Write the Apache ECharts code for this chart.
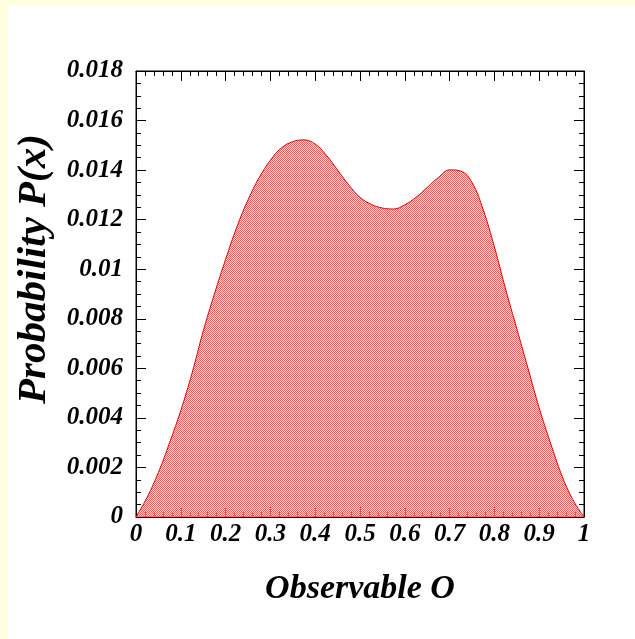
<!DOCTYPE html>
<html>
<head>
<meta charset="utf-8">
<script src="https://cdn.jsdelivr.net/npm/echarts@6/dist/echarts.min.js"></script>
<style>
  html, body { margin: 0; padding: 0; background: #ffffff; }
  #chart { width: 635px; height: 639px; }
</style>
</head>
<body>
<div id="chart"></div>
<script>
// Observable values (x) and the probability density read at each one
const obsValues = [0, 0.025, 0.05, 0.075, 0.1, 0.125, 0.15, 0.175, 0.2, 0.225, 0.25, 0.275, 0.3, 0.325, 0.35, 0.375, 0.4, 0.425, 0.45, 0.475, 0.5, 0.525, 0.55, 0.575, 0.6, 0.625, 0.65, 0.675, 0.7, 0.725, 0.75, 0.775, 0.8, 0.825, 0.85, 0.875, 0.9, 0.925, 0.95, 0.975, 1.0];
const probValues = [0, 0.0008, 0.0018, 0.0030, 0.0043, 0.0058, 0.0075, 0.0090, 0.0104, 0.0117, 0.0128, 0.0137, 0.0144, 0.0149, 0.01515, 0.01522, 0.01505, 0.0146, 0.0140, 0.0134, 0.0129, 0.01262, 0.01247, 0.01243, 0.0126, 0.0129, 0.0133, 0.0137, 0.01401, 0.01396, 0.0135, 0.0124, 0.0109, 0.0092, 0.0076, 0.0060, 0.0044, 0.0030, 0.0017, 0.0007, 0];

// Tick labels
const xTickLabels = ['0', '0.1', '0.2', '0.3', '0.4', '0.5', '0.6', '0.7', '0.8', '0.9', '1'];
const yTickLabels = ['0', '0.002', '0.004', '0.006', '0.008', '0.01', '0.012', '0.014', '0.016', '0.018'];

const xTitle = 'Observable O';
const yTitle = 'Probability P(x)';

// Checkered fill pattern: red cells alternating with pale cells
function makePattern() {
  const c = document.createElement('canvas');
  c.width = 2; c.height = 2;
  const g = c.getContext('2d');
  g.fillStyle = 'rgb(232,96,96)';
  g.fillRect(0, 0, 1, 1);
  g.fillRect(1, 1, 1, 1);
  g.fillStyle = 'rgba(255,200,200,0.5)';
  g.fillRect(1, 0, 1, 1);
  g.fillRect(0, 1, 1, 1);
  return c;
}

const fontFamily = '"Liberation Serif", "DejaVu Serif", serif';
const font = { fontFamily: fontFamily, fontWeight: 'bold', fontStyle: 'italic', color: '#000' };

const chart = echarts.init(document.getElementById('chart'), null, { renderer: 'canvas' });

function xAxisCfg(pos, showLabels) {
  return {
    type: 'value', position: pos, min: 0, max: 1, interval: 0.1,
    axisLine: { show: true, onZero: false, lineStyle: { color: '#000', width: 1 } },
    axisTick: { show: true, inside: true, length: 10, lineStyle: { color: '#000' } },
    minorTick: { show: true, splitNumber: 5, length: 5, lineStyle: { color: '#000' } },
    splitLine: { show: false },
    axisLabel: {
      show: showLabels, margin: 5, fontSize: 25, ...font,
      formatter: v => xTickLabels[Math.round(v * 10)]
    }
  };
}

function yAxisCfg(pos, showLabels) {
  return {
    type: 'value', position: pos, min: 0, max: 0.018, interval: 0.002,
    axisLine: { show: true, onZero: false, lineStyle: { color: '#000', width: 1 } },
    axisTick: { show: true, inside: true, length: 10, lineStyle: { color: '#000' } },
    minorTick: { show: true, splitNumber: 4, length: 5, lineStyle: { color: '#000' } },
    splitLine: { show: false },
    axisLabel: {
      show: showLabels, margin: 13, fontSize: 25, ...font,
      formatter: v => yTickLabels[Math.round(v / 0.002)]
    }
  };
}

const xAxisMain = xAxisCfg('bottom', true);
xAxisMain.name = xTitle;
xAxisMain.nameLocation = 'middle';
xAxisMain.nameGap = 55;
xAxisMain.nameTextStyle = { fontSize: 34, ...font };

chart.setOption({
  backgroundColor: '#ffffff',
  animation: false,
  grid: { left: 136, right: 51, top: 71, bottom: 122, show: true, backgroundColor: '#ffffff', borderColor: '#000', borderWidth: 1 },
  xAxis: [xAxisMain, xAxisCfg('top', false)],
  yAxis: [yAxisCfg('left', true), yAxisCfg('right', false)],
  graphic: [
    { type: 'rect', left: 0, top: 0, shape: { width: 635, height: 6 }, style: { fill: '#ffffe0' }, z: -10 },
    { type: 'rect', left: 0, top: 0, shape: { width: 8, height: 639 }, style: { fill: '#ffffe0' }, z: -10 },
    {
      type: 'text', x: 34, y: 269, rotation: Math.PI / 2,
      style: {
        text: yTitle, fontSize: 41, fontFamily: fontFamily, fontWeight: 'bold', fontStyle: 'italic',
        fill: '#000', align: 'center', verticalAlign: 'middle'
      }
    }
  ],
  series: [{
    type: 'line',
    xAxisIndex: 0, yAxisIndex: 0,
    data: obsValues.map((x, i) => [x, probValues[i]]),
    smooth: 0.4,
    showSymbol: false,
    lineStyle: { color: '#e00000', width: 1 },
    areaStyle: { color: { image: makePattern(), repeat: 'repeat' }, opacity: 1 }
  }]
});
</script>
</body>
</html>
